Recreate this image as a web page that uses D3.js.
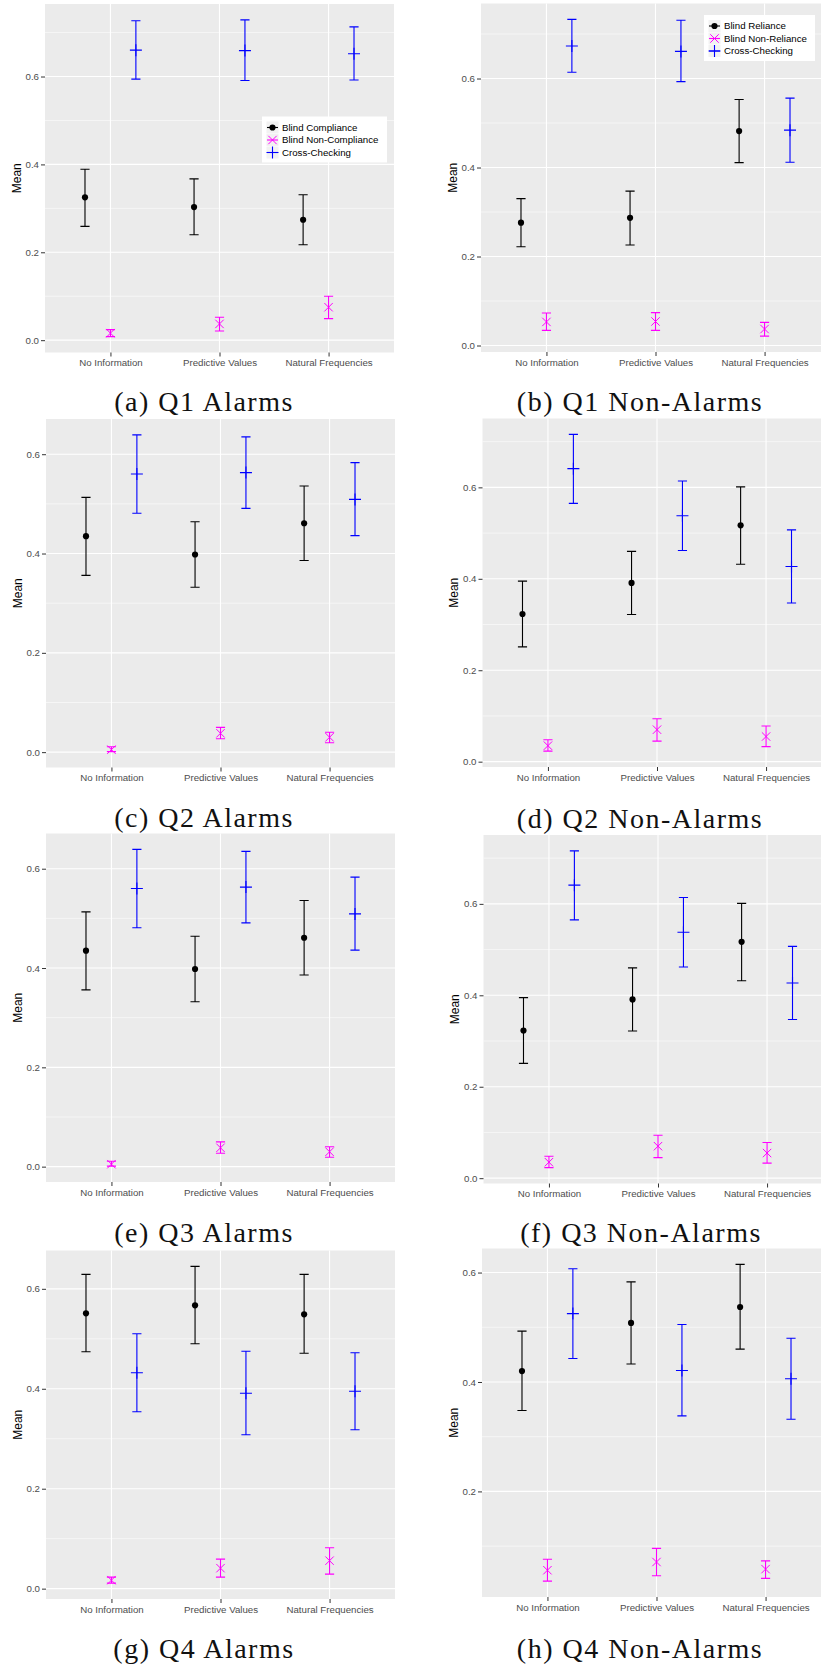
<!DOCTYPE html>
<html>
<head>
<meta charset="utf-8">
<script src="https://cdn.jsdelivr.net/npm/d3@7"></script>
<style>
  body { margin: 0; background: #fff; }
  svg { display: block; }
</style>
</head>
<body>
<svg id="chart" width="821" height="1666"></svg>
<script>
// categories, series names and tick labels
const categories = ["No Information", "Predictive Values", "Natural Frequencies"];
const alarmSeries = ["Blind Compliance", "Blind Non-Compliance", "Cross-Checking"];
const nonAlarmSeries = ["Blind Reliance", "Blind Non-Reliance", "Cross-Checking"];
const yTicks = [0, 0.2, 0.4, 0.6];
const yMinorTicks = [0.1, 0.3, 0.5, 0.7];

// each array: [blind (non-)compliance/reliance..., per category]
const q1AlarmsMean = [[0.325, 0.303, 0.274], [0.016, 0.037, 0.075], [0.660, 0.659, 0.652]];
const q1AlarmsLow  = [[0.259, 0.240, 0.217], [0.008, 0.021, 0.049], [0.594, 0.591, 0.592]];
const q1AlarmsHigh = [[0.389, 0.367, 0.331], [0.024, 0.052, 0.100], [0.727, 0.729, 0.713]];

const q1NonAlarmsMean = [[0.276, 0.287, 0.482], [0.053, 0.054, 0.037], [0.673, 0.661, 0.484]];
const q1NonAlarmsLow  = [[0.222, 0.226, 0.411], [0.034, 0.034, 0.021], [0.614, 0.593, 0.412]];
const q1NonAlarmsHigh = [[0.330, 0.347, 0.553], [0.073, 0.074, 0.052], [0.733, 0.731, 0.556]];

const q2AlarmsMean = [[0.435, 0.398, 0.461], [0.005, 0.038, 0.030], [0.560, 0.563, 0.509]];
const q2AlarmsLow  = [[0.356, 0.332, 0.386], [0.001, 0.027, 0.019], [0.481, 0.491, 0.436]];
const q2AlarmsHigh = [[0.513, 0.464, 0.536], [0.011, 0.050, 0.040], [0.639, 0.635, 0.583]];

const q2NonAlarmsMean = [[0.323, 0.391, 0.517], [0.035, 0.070, 0.055], [0.641, 0.538, 0.427]];
const q2NonAlarmsLow  = [[0.251, 0.322, 0.432], [0.023, 0.045, 0.033], [0.565, 0.462, 0.347]];
const q2NonAlarmsHigh = [[0.395, 0.460, 0.601], [0.048, 0.094, 0.078], [0.716, 0.614, 0.507]];

const q3AlarmsMean = [[0.435, 0.398, 0.461], [0.005, 0.038, 0.030], [0.560, 0.563, 0.509]];
const q3AlarmsLow  = [[0.356, 0.332, 0.386], [0.001, 0.027, 0.019], [0.481, 0.491, 0.436]];
const q3AlarmsHigh = [[0.513, 0.464, 0.536], [0.011, 0.050, 0.040], [0.639, 0.635, 0.583]];

const q3NonAlarmsMean = [[0.323, 0.391, 0.517], [0.035, 0.070, 0.055], [0.641, 0.538, 0.427]];
const q3NonAlarmsLow  = [[0.251, 0.322, 0.432], [0.023, 0.045, 0.033], [0.565, 0.462, 0.347]];
const q3NonAlarmsHigh = [[0.395, 0.460, 0.601], [0.048, 0.094, 0.078], [0.716, 0.614, 0.507]];

const q4AlarmsMean = [[0.551, 0.567, 0.549], [0.017, 0.041, 0.056], [0.432, 0.391, 0.395]];
const q4AlarmsLow  = [[0.474, 0.490, 0.471], [0.011, 0.023, 0.029], [0.354, 0.308, 0.318]];
const q4AlarmsHigh = [[0.629, 0.645, 0.629], [0.023, 0.059, 0.082], [0.510, 0.475, 0.472]];

const q4NonAlarmsMean = [[0.420, 0.508, 0.537], [0.056, 0.071, 0.058], [0.525, 0.421, 0.406]];
const q4NonAlarmsLow  = [[0.348, 0.433, 0.460], [0.036, 0.046, 0.041], [0.443, 0.338, 0.332]];
const q4NonAlarmsHigh = [[0.493, 0.583, 0.615], [0.076, 0.096, 0.073], [0.607, 0.505, 0.480]];

const colors = ["#000000", "#ff00ff", "#0000ff"];
const shapes = ["dot", "cross", "plus"];

const plotW = 349, plotH = 348.5;
const sans = "'Liberation Sans', Arial, sans-serif";

const panels = [
  { caption: "(a) Q1 Alarms", series: alarmSeries, mean: q1AlarmsMean, low: q1AlarmsLow, high: q1AlarmsHigh,
    left: 45, top: 4, capX: 204, capY: 410.5, legend: { x: 262, y: 116.5, w: 125, h: 46 } },
  { caption: "(b) Q1 Non-Alarms", series: nonAlarmSeries, mean: q1NonAlarmsMean, low: q1NonAlarmsLow, high: q1NonAlarmsHigh,
    left: 481, top: 3.5, capX: 640, capY: 410.5, legend: { x: 704, y: 15, w: 111, h: 46 } },
  { caption: "(c) Q2 Alarms", series: alarmSeries, mean: q2AlarmsMean, low: q2AlarmsLow, high: q2AlarmsHigh,
    left: 46, top: 419, capX: 204, capY: 827 },
  { caption: "(d) Q2 Non-Alarms", series: nonAlarmSeries, mean: q2NonAlarmsMean, low: q2NonAlarmsLow, high: q2NonAlarmsHigh,
    left: 482.5, top: 418.5, capX: 640, capY: 828 },
  { caption: "(e) Q3 Alarms", series: alarmSeries, mean: q3AlarmsMean, low: q3AlarmsLow, high: q3AlarmsHigh,
    left: 46, top: 833.5, capX: 204, capY: 1241.5 },
  { caption: "(f) Q3 Non-Alarms", series: nonAlarmSeries, mean: q3NonAlarmsMean, low: q3NonAlarmsLow, high: q3NonAlarmsHigh,
    left: 483.5, top: 835, capX: 641, capY: 1241.5 },
  { caption: "(g) Q4 Alarms", series: alarmSeries, mean: q4AlarmsMean, low: q4AlarmsLow, high: q4AlarmsHigh,
    left: 46, top: 1250.5, capX: 204, capY: 1658 },
  { caption: "(h) Q4 Non-Alarms", series: nonAlarmSeries, mean: q4NonAlarmsMean, low: q4NonAlarmsLow, high: q4NonAlarmsHigh,
    left: 482, top: 1248.5, capX: 640, capY: 1658 }
];

const svg = d3.select("#chart");

function drawSymbol(g, shape, cx, cy, color) {
  if (shape === "dot") {
    g.append("circle").attr("cx", cx).attr("cy", cy).attr("r", 3.1).attr("fill", color);
  } else if (shape === "cross") {
    const s = 4.2;
    g.append("path").attr("d", `M${cx - s},${cy - s}L${cx + s},${cy + s}M${cx - s},${cy + s}L${cx + s},${cy - s}`)
      .attr("stroke", color).attr("stroke-width", 1).attr("fill", "none");
  } else {
    const s = 6;
    g.append("path").attr("d", `M${cx - s},${cy}L${cx + s},${cy}M${cx},${cy - s}L${cx},${cy + s}`)
      .attr("stroke", color).attr("stroke-width", 1.1).attr("fill", "none");
  }
}

function drawPanel(p) {
  const g = svg.append("g");

  const x = d3.scalePoint().domain(categories).range([p.left, p.left + plotW]).padding(0.6);
  const dodge = d3.scaleBand().domain(p.series).range([-0.35 * x.step(), 0.35 * x.step()]);

  const [lo, hi] = d3.extent(p.low.flat().concat(p.high.flat()));
  const pad = (hi - lo) * 0.05;
  const y = d3.scaleLinear().domain([lo - pad, hi + pad]).range([p.top + plotH, p.top]);
  const inside = v => v >= y.domain()[0] && v <= y.domain()[1];

  // panel background + grid
  g.append("rect").attr("x", p.left).attr("y", p.top).attr("width", plotW).attr("height", plotH).attr("fill", "#ebebeb");

  g.append("g").selectAll("line").data(yMinorTicks.filter(inside)).join("line")
    .attr("x1", p.left).attr("x2", p.left + plotW)
    .attr("y1", d => y(d)).attr("y2", d => y(d))
    .attr("stroke", "#fff").attr("stroke-width", 0.55);

  g.append("g").selectAll("line").data(yTicks.filter(inside)).join("line")
    .attr("x1", p.left).attr("x2", p.left + plotW)
    .attr("y1", d => y(d)).attr("y2", d => y(d))
    .attr("stroke", "#fff").attr("stroke-width", 1.1);

  g.append("g").selectAll("line").data(categories).join("line")
    .attr("x1", d => x(d)).attr("x2", d => x(d))
    .attr("y1", p.top).attr("y2", p.top + plotH)
    .attr("stroke", "#fff").attr("stroke-width", 1.1);

  // axes
  const yAxis = g.append("g")
    .attr("transform", `translate(${p.left},0)`)
    .call(d3.axisLeft(y).tickValues(yTicks.filter(inside)).tickFormat(d3.format(".1f")).tickSize(4).tickPadding(2));
  const xAxis = g.append("g")
    .attr("transform", `translate(0,${p.top + plotH})`)
    .call(d3.axisBottom(x).tickSize(4).tickPadding(3));
  [yAxis, xAxis].forEach(a => {
    a.select(".domain").remove();
    a.selectAll(".tick line").attr("stroke", "#333").attr("stroke-width", 1);
    a.selectAll(".tick text").attr("fill", "#4d4d4d").style("font-family", sans).style("font-size", "9.7px");
  });

  g.append("text")
    .attr("transform", `translate(${p.left - 28.5},${p.top + plotH / 2}) rotate(-90)`)
    .attr("text-anchor", "middle").attr("dy", "0.35em")
    .style("font-family", sans).style("font-size", "12px").attr("fill", "#000")
    .text("Mean");

  // error bars and points
  const capHalf = dodge.bandwidth() * 0.18;
  p.series.forEach((s, i) => {
    const sg = g.append("g");
    categories.forEach((c, j) => {
      const cx = x(c) + dodge(s) + dodge.bandwidth() / 2;
      const y0 = y(p.low[i][j]), y1 = y(p.high[i][j]);
      sg.append("path")
        .attr("d", `M${cx - capHalf},${y1}H${cx + capHalf}M${cx},${y1}V${y0}M${cx - capHalf},${y0}H${cx + capHalf}`)
        .attr("stroke", colors[i]).attr("stroke-width", 1.1).attr("fill", "none");
      drawSymbol(sg, shapes[i], cx, y(p.mean[i][j]), colors[i]);
    });
  });

  // legend
  if (p.legend) {
    const L = p.legend;
    const lg = g.append("g");
    lg.append("rect").attr("x", L.x).attr("y", L.y).attr("width", L.w).attr("height", L.h).attr("fill", "#fff");
    p.series.forEach((s, i) => {
      const ky = L.y + 11 + i * 12.5;
      const kx = L.x + 10.5;
      lg.append("rect").attr("x", kx - 6).attr("y", ky - 6).attr("width", 12).attr("height", 12).attr("fill", "#f2f2f2");
      lg.append("line").attr("x1", kx - 5.5).attr("x2", kx + 5.5).attr("y1", ky).attr("y2", ky)
        .attr("stroke", colors[i]).attr("stroke-width", 1.1);
      drawSymbol(lg, shapes[i], kx, ky, colors[i]);
      lg.append("text").attr("x", L.x + 20).attr("y", ky).attr("dy", "0.35em")
        .style("font-family", sans).style("font-size", "9.7px").attr("fill", "#000")
        .text(s);
    });
  }

  // caption
  svg.append("text")
    .attr("x", p.capX).attr("y", p.capY)
    .attr("text-anchor", "middle")
    .style("font-family", "'Liberation Serif', 'Times New Roman', serif")
    .style("font-size", "28px").style("letter-spacing", "1.5px")
    .attr("fill", "#111")
    .text(p.caption);
}

panels.forEach(drawPanel);
</script>
</body>
</html>
